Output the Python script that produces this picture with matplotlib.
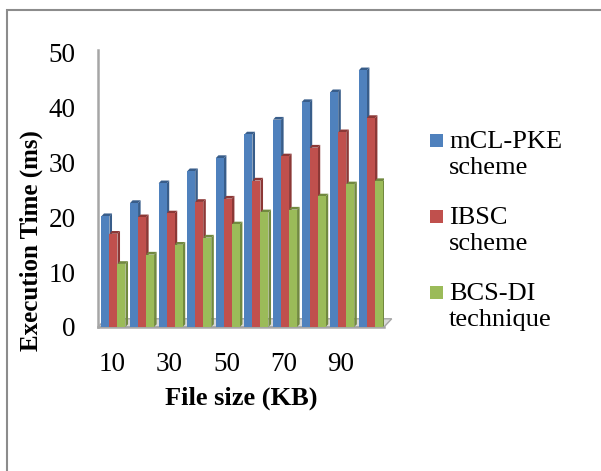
"""Execution time vs file size, 3D-style clustered columns."""

import matplotlib
matplotlib.use("Agg")
import matplotlib.pyplot as plt
from matplotlib.patches import Polygon, Rectangle
import numpy as np

FILE_SIZES = [10, 20, 30, 40, 50, 60, 70, 80, 90, 100]
TICK_LABELS = ["10", "", "30", "", "50", "", "70", "", "90", ""]
MCL_PKE = [20.2, 22.6, 26.2, 28.4, 30.8, 35.1, 37.8, 41.0, 42.8, 46.8]
IBSC = [17.0, 20.0, 20.7, 22.8, 23.4, 26.7, 31.1, 32.7, 35.5, 38.1]
BCS_DI = [11.5, 13.2, 15.0, 16.3, 18.7, 20.9, 21.4, 23.8, 26.0, 26.6]

SERIES = [
    ("mCL-PKE\nscheme", MCL_PKE, "#4F81BD", "#385D8A"),
    ("IBSC\nscheme", IBSC, "#C0504D", "#8C3836"),
    ("BCS-DI\ntechnique", BCS_DI, "#9BBB59", "#71893F"),
]

plt.rcParams["font.family"] = ["Liberation Serif", "DejaVu Serif"]

W, H = 601, 471
fig = plt.figure(figsize=(W / 100, H / 100), dpi=100)
ax = fig.add_axes([98 / W, (H - 327) / H, 286 / W, 277 / H])

x = np.arange(len(FILE_SIZES))
bar_w = 0.28
dx, dy = 0.09, 0.5  # depth offset in data units

z = 2
for i in range(len(FILE_SIZES)):
    for k, (label, vals, face, side) in enumerate(SERIES):
        xc = x[i] + (k - 1) * bar_w + 0.04
        h = vals[i]
        l, r = xc - bar_w / 2, xc + bar_w / 2
        ax.add_patch(Polygon([(r, 0), (r + dx, dy), (r + dx, h + dy), (r, h)],
                             closed=True, facecolor=side, edgecolor="none", zorder=z))
        ax.add_patch(Polygon([(l, h), (l + dx, h + dy), (r + dx, h + dy), (r, h)],
                             closed=True, facecolor=side, edgecolor="none", zorder=z))
        ax.bar(xc, h, width=bar_w, color=face, edgecolor="none", zorder=z + 1)
        z += 2

# floor
ax.add_patch(Polygon([(-0.5, 0), (9.5, 0), (9.5 + 3 * dx, 3 * dy), (-0.5 + 3 * dx, 3 * dy)],
                     closed=True, facecolor="#D9D9D9", edgecolor="#A6A6A6",
                     linewidth=1.0, zorder=1, clip_on=False))

ax.set_xlim(-0.5, 9.5)
ax.set_ylim(0, 50.5)
ax.set_yticks(range(0, 51, 10))
ax.set_xticks(x)
ax.set_xticklabels(TICK_LABELS)
ax.tick_params(axis="y", length=0, pad=16, labelsize=19.5)
ax.tick_params(axis="x", length=0, pad=18, labelsize=19.5)

for s in ("top", "right"):
    ax.spines[s].set_visible(False)
ax.spines["left"].set_color("#A6A6A6")
ax.spines["left"].set_linewidth(1.8)
ax.spines["bottom"].set_color("#A6A6A6")
ax.spines["bottom"].set_linewidth(1.8)

ax.set_ylabel("Execution Time (ms)", fontsize=18, fontweight="bold")
ax.yaxis.set_label_coords((43 - 98) / 286, (327 - 241) / 277)
ax.set_xlabel("File size (KB)", fontsize=19, fontweight="bold", labelpad=7)

# legend: square aligned with the first line of each two-line label
for k, (label, vals, face, side) in enumerate(SERIES):
    yc = 140 + k * 76
    fig.add_artist(Rectangle((430 / W, 1 - (yc + 6.5) / H), 13 / W, 13 / H,
                             transform=fig.transFigure, facecolor=face, edgecolor="none"))
    fig.text(449 / W, 1 - (yc - 9) / H, label, fontsize=19, va="top", ha="left",
             linespacing=1.25)

fig.add_artist(Rectangle((7 / W, -0.05), 2.0, 1.05 - 10 / H, transform=fig.transFigure,
                         facecolor="none", edgecolor="#8C8C8C", linewidth=1.5))

fig.savefig("out.png", dpi=100)
